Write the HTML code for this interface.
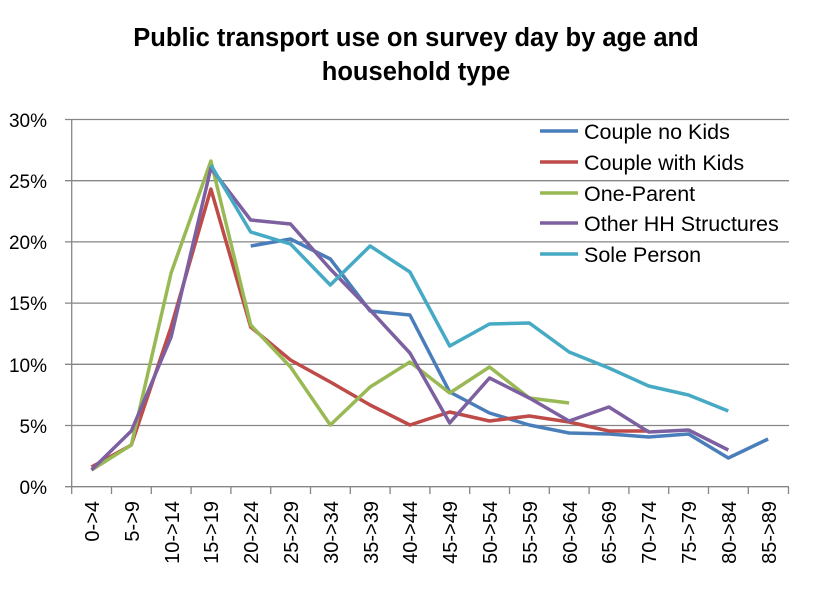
<!DOCTYPE html>
<html><head><style>body{margin:0;background:#fff}</style></head><body>
<svg width="832" height="585" xmlns="http://www.w3.org/2000/svg" font-family="Liberation Sans, sans-serif">
<rect width="832" height="585" fill="#fff"/>
<text x="416" y="46" text-anchor="middle" font-size="25.5" font-weight="bold">Public transport use on survey day by age and</text>
<text x="416" y="80" text-anchor="middle" font-size="25.5" font-weight="bold">household type</text>
<g stroke="#868686" stroke-width="1.3">
<line x1="65" y1="119.5" x2="789" y2="119.5"/><line x1="65" y1="180.7" x2="789" y2="180.7"/><line x1="65" y1="241.9" x2="789" y2="241.9"/><line x1="65" y1="303.1" x2="789" y2="303.1"/><line x1="65" y1="364.3" x2="789" y2="364.3"/><line x1="65" y1="425.5" x2="789" y2="425.5"/><line x1="65" y1="486.7" x2="789" y2="486.7"/>
<line x1="71.7" y1="119.5" x2="71.7" y2="494"/>
</g>
<g stroke="#868686" stroke-width="1.3">
<line x1="111.5" y1="487" x2="111.5" y2="494"/><line x1="151.3" y1="487" x2="151.3" y2="494"/><line x1="191.1" y1="487" x2="191.1" y2="494"/><line x1="230.9" y1="487" x2="230.9" y2="494"/><line x1="270.7" y1="487" x2="270.7" y2="494"/><line x1="310.5" y1="487" x2="310.5" y2="494"/><line x1="350.3" y1="487" x2="350.3" y2="494"/><line x1="390.1" y1="487" x2="390.1" y2="494"/><line x1="429.9" y1="487" x2="429.9" y2="494"/><line x1="469.7" y1="487" x2="469.7" y2="494"/><line x1="509.5" y1="487" x2="509.5" y2="494"/><line x1="549.3" y1="487" x2="549.3" y2="494"/><line x1="589.1" y1="487" x2="589.1" y2="494"/><line x1="628.9" y1="487" x2="628.9" y2="494"/><line x1="668.7" y1="487" x2="668.7" y2="494"/><line x1="708.5" y1="487" x2="708.5" y2="494"/><line x1="748.3" y1="487" x2="748.3" y2="494"/><line x1="788.5" y1="487" x2="788.5" y2="494"/>
</g>
<g font-size="19" text-anchor="end" fill="#000">
<text x="47" y="127">30%</text><text x="47" y="188">25%</text><text x="47" y="249">20%</text><text x="47" y="310">15%</text><text x="47" y="372">10%</text><text x="47" y="433">5%</text><text x="47" y="494">0%</text>
</g>
<g font-size="20" text-anchor="end" fill="#000">
<text transform="translate(99,501) rotate(-90)">0-&gt;4</text>
<text transform="translate(139,501) rotate(-90)">5-&gt;9</text>
<text transform="translate(179,501) rotate(-90)">10-&gt;14</text>
<text transform="translate(218,501) rotate(-90)">15-&gt;19</text>
<text transform="translate(258,501) rotate(-90)">20-&gt;24</text>
<text transform="translate(298,501) rotate(-90)">25-&gt;29</text>
<text transform="translate(338,501) rotate(-90)">30-&gt;34</text>
<text transform="translate(378,501) rotate(-90)">35-&gt;39</text>
<text transform="translate(417,501) rotate(-90)">40-&gt;44</text>
<text transform="translate(457,501) rotate(-90)">45-&gt;49</text>
<text transform="translate(497,501) rotate(-90)">50-&gt;54</text>
<text transform="translate(537,501) rotate(-90)">55-&gt;59</text>
<text transform="translate(577,501) rotate(-90)">60-&gt;64</text>
<text transform="translate(616,501) rotate(-90)">65-&gt;69</text>
<text transform="translate(656,501) rotate(-90)">70-&gt;74</text>
<text transform="translate(696,501) rotate(-90)">75-&gt;79</text>
<text transform="translate(736,501) rotate(-90)">80-&gt;84</text>
<text transform="translate(776,501) rotate(-90)">85-&gt;89</text>
</g>
<g fill="none" stroke-width="3.5" stroke-linejoin="round">
<polyline stroke="#4A7EBB" points="250.7,246 290.5,239 330.3,259 370.1,311 409.9,315 449.7,392 489.5,413 529.3,425 569.1,433 608.9,434 648.7,437 688.5,434 728.3,458 768.1,439"/>
<polyline stroke="#BE4B48" points="91.5,467 131.3,445 171.1,327 210.9,189 250.7,327 290.5,360 330.3,382 370.1,405 409.9,425 449.7,412 489.5,421 529.3,416 569.1,422 608.9,431 648.7,431"/>
<polyline stroke="#98B954" points="91.5,470 131.3,445 171.1,273 210.9,161 250.7,325 290.5,367 330.3,425 370.1,387 409.9,362 449.7,393 489.5,367 529.3,398 569.1,403"/>
<polyline stroke="#7D60A0" points="91.5,470 131.3,431 171.1,337 210.9,168 250.7,220 290.5,224 330.3,269 370.1,310 409.9,353 449.7,423 489.5,378 529.3,398 569.1,421 608.9,407 648.7,432 688.5,430 728.3,450"/>
<polyline stroke="#46AAC5" points="210.9,165 250.7,232 290.5,244 330.3,285 370.1,246 409.9,272 449.7,346 489.5,324 529.3,323 569.1,352 608.9,368 648.7,386 688.5,395 728.3,411"/>
</g>
<g stroke-width="3.5">
<line x1="540" y1="131" x2="578" y2="131" stroke="#4A7EBB"/>
<line x1="540" y1="162" x2="578" y2="162" stroke="#BE4B48"/>
<line x1="540" y1="193" x2="578" y2="193" stroke="#98B954"/>
<line x1="540" y1="223" x2="578" y2="223" stroke="#7D60A0"/>
<line x1="540" y1="254" x2="578" y2="254" stroke="#46AAC5"/>
</g>
<g font-size="21.5" fill="#000">
<text x="584" y="139">Couple no Kids</text>
<text x="584" y="170">Couple with Kids</text>
<text x="584" y="201">One-Parent</text>
<text x="584" y="231">Other HH Structures</text>
<text x="584" y="262">Sole Person</text>
</g>
</svg>
</body></html>
